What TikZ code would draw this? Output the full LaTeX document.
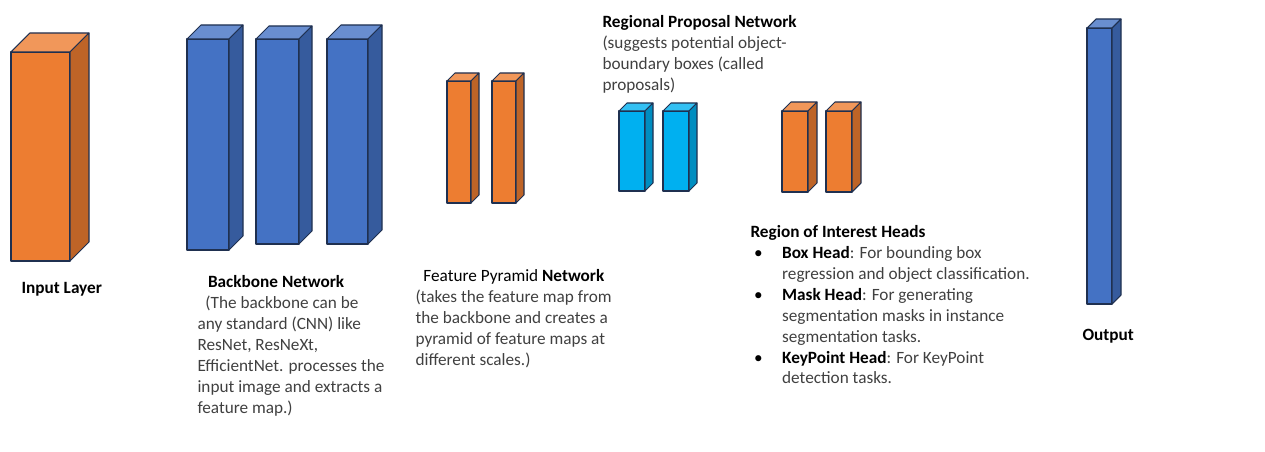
\documentclass[tikz,border=0pt]{standalone}
\usepackage{fontspec}
\setmainfont{Carlito}
\definecolor{org}{HTML}{ED7D31}
\definecolor{blu}{HTML}{4472C4}
\definecolor{cya}{HTML}{00B0F0}
\definecolor{edge}{HTML}{1F3050}
\definecolor{txt}{HTML}{404040}
\begin{document}
\begin{tikzpicture}[x=0.02cm, y=-0.02cm, line join=round, line width=0.6pt,
		lbl/.style={anchor=north west, inner sep=0pt, align=left, text=txt, font=\fontsize{9.8}{11.9}\selectfont},
		ttl/.style={lbl, text=black, font=\fontsize{9.8}{11.9}\selectfont\bfseries}]
	\useasboundingbox (0,0) rectangle (1265,452);
	% left/top/right/bottom/depth/colour of every block
	\foreach \l/\t/\r/\b/\d/\c in {11/52/70/261/19/org, 187/39/229/250/14/blu, 256/39/299/244/13/blu,
			327/39/368/244/14/blu, 447/81/471/203/8/org, 492/81/516/203/8/org, 619/111/645/191/8/cya,
			663/111/689/191/8/cya, 782/111/808/192/9/org, 826/111/852/192/9/org, 1087/28/1112/304/9/blu} {
		\filldraw[draw=edge, fill=\c] (\l,\t) rectangle (\r,\b);
		\filldraw[draw=edge, fill=\c!80!white] (\l,\t) -- (\l+\d,\t-\d) -- (\r+\d,\t-\d) -- (\r,\t) -- cycle;
		\filldraw[draw=edge, fill=\c!80!black] (\r,\t) -- (\r+\d,\t-\d) -- (\r+\d,\b-\d) -- (\r,\b) -- cycle;
	}
	
	\node[ttl] (in-lbl) at (21,282) {Input Layer};
	\node[lbl] (bb-lbl) at (197,275) {\hspace*{6pt}{\color{black}\bfseries Backbone Network}\\
		\hspace*{4.5pt}(The backbone can be\\any standard (CNN) like\\ResNet, ResNeXt,\\
		EfficientNet. processes the\\input image and extracts a\\feature map.)};
	\node[lbl] (fpn-lbl) at (415,269) {\hspace*{4.5pt}{\color{black}Feature Pyramid \bfseries Network}\\
		(takes the feature map from\\the backbone and creates a\\pyramid of feature maps at\\different scales.)};
	\node[lbl] (rpn-lbl) at (602,15) {{\color{black}\bfseries Regional Proposal Network}\\
		(suggests potential object-\\boundary boxes (called\\proposals)};
	\node[lbl] (roi-lbl) at (750,225) {{\color{black}\bfseries Region of Interest Heads}\\
		\hspace*{2pt}\makebox[16pt][l]{\color{black}\textbullet}{\color{black}\bfseries Box Head}: For bounding box\\
		\hspace*{18pt}regression and object classification.\\
		\hspace*{2pt}\makebox[16pt][l]{\color{black}\textbullet}{\color{black}\bfseries Mask Head}: For generating\\
		\hspace*{18pt}segmentation masks in instance\\
		\hspace*{18pt}segmentation tasks.\\
		\hspace*{2pt}\makebox[16pt][l]{\color{black}\textbullet}{\color{black}\bfseries KeyPoint Head}: For KeyPoint\\
		\hspace*{18pt}detection tasks.};
	\node[ttl] (out-lbl) at (1082,329) {Output};
\end{tikzpicture}
\end{document}
